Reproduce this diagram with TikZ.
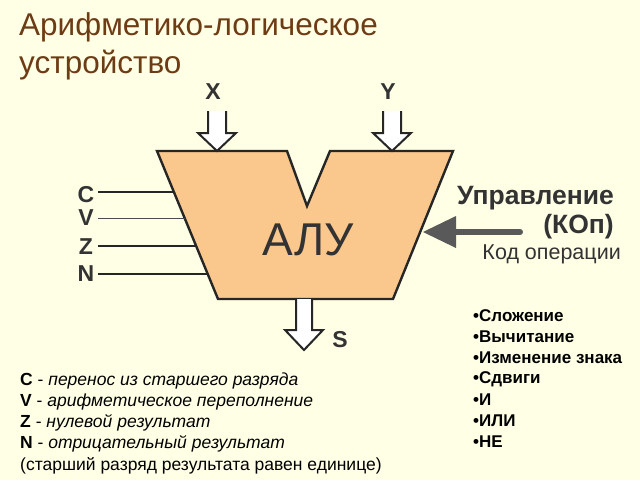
\documentclass[tikz,border=0pt]{standalone}
\usepackage{fontspec}
\setmainfont{Liberation Sans}
\begin{document}
\begin{tikzpicture}[x=1pt,y=-1pt,
  hollow/.style={draw=black!85,line width=2pt,fill=white,line join=miter},
  lbl/.style={font=\fontsize{23}{23}\selectfont\bfseries,text=black!80,inner sep=0pt},
  item/.style={anchor=west,inner sep=0pt,font=\fontsize{17}{17}\selectfont\bfseries},
  leg/.style={anchor=west,inner sep=0pt,font=\fontsize{17.5}{18}\selectfont}]
\useasboundingbox[fill={rgb,255:red,255;green,255;blue,230}] (0,0) rectangle (640,480);
\node[anchor=north west,align=left,inner sep=0pt,text={rgb,255:red,110;green,60;blue,20},font=\fontsize{31.5}{38}\selectfont] (title) at (19,12) {Арифметико-логическое\\устройство};
% ALU body
\draw[fill={rgb,255:red,250;green,200;blue,140},draw=black!85,line width=2.4pt,line join=miter]
 (157,151) -- (287,151) -- (307,206) -- (330,151) -- (453,151) -- (393,299) -- (218,299) -- cycle;
\node[font=\fontsize{46}{46}\selectfont,text=black!80] (alu) at (308,240) {АЛУ};
% input arrows
\foreach \n/\cx in {X/217,Y/392}{
  \draw[hollow] (\cx-9,111) -- (\cx-9,133) -- (\cx-19,133) -- (\cx,151) -- (\cx+19,133) -- (\cx+9,133) -- (\cx+9,111);
  \node[lbl] (\n) at (\cx-4,92) {\n};
}
% output S
\draw[hollow] (296,299) -- (296,330) -- (285,330) -- (304,350) -- (323,330) -- (312,330) -- (312,299);
\node[lbl] (S) at (340,340) {S};
% flags
\node[lbl] (C) at (86,195) {C};
\node[lbl] (V) at (86,218) {V};
\node[lbl] (Z) at (86,247) {Z};
\node[lbl] (N) at (86,274) {N};
\draw[line width=1.2pt,black!85] (98,192) -- (174,192);
\draw[line width=0.9pt,black!70] (98,218) -- (185,218);
\draw[line width=2pt,black!85] (98,246) -- (196,246);
\draw[line width=2pt,black!85] (98,274) -- (208,274);
% control
\coordinate (ctl) at (520,232);
\draw[line width=6pt,black!65,line cap=round] (ctl) -- (452,232);
\fill[black!65] (423,232) -- (456,216) -- (456,248) -- cycle;
\node[lbl,anchor=east,font=\fontsize{26.5}{26}\selectfont\bfseries] (upr) at (614,198) {Управление};
\node[lbl,anchor=east,font=\fontsize{26.5}{26}\selectfont\bfseries] (kop) at (614,227) {(КОп)};
\node[anchor=east,inner sep=0pt,font=\fontsize{21.5}{21}\selectfont,text=black!80] (kod) at (621,254) {Код операции};
% list
\foreach \t [count=\i from 0] in {Сложение,Вычитание,Изменение знака,Сдвиги,И,ИЛИ,НЕ}{
  \node[item] (it\i) at (473,316+21*\i) {\textbullet\t};
}
% legend
\node[leg] (l1) at (20,381) {\textbf{C} - \textit{перенос из старшего разряда}};
\node[leg] (l2) at (20,402) {\textbf{V} - \textit{арифметическое переполнение}};
\node[leg] (l3) at (20,423) {\textbf{Z} - \textit{нулевой результат}};
\node[leg] (l4) at (20,444) {\textbf{N} - \textit{отрицательный результат}};
\node[leg] (l5) at (20,466) {(старший разряд результата равен единице)};
\end{tikzpicture}
\end{document}
